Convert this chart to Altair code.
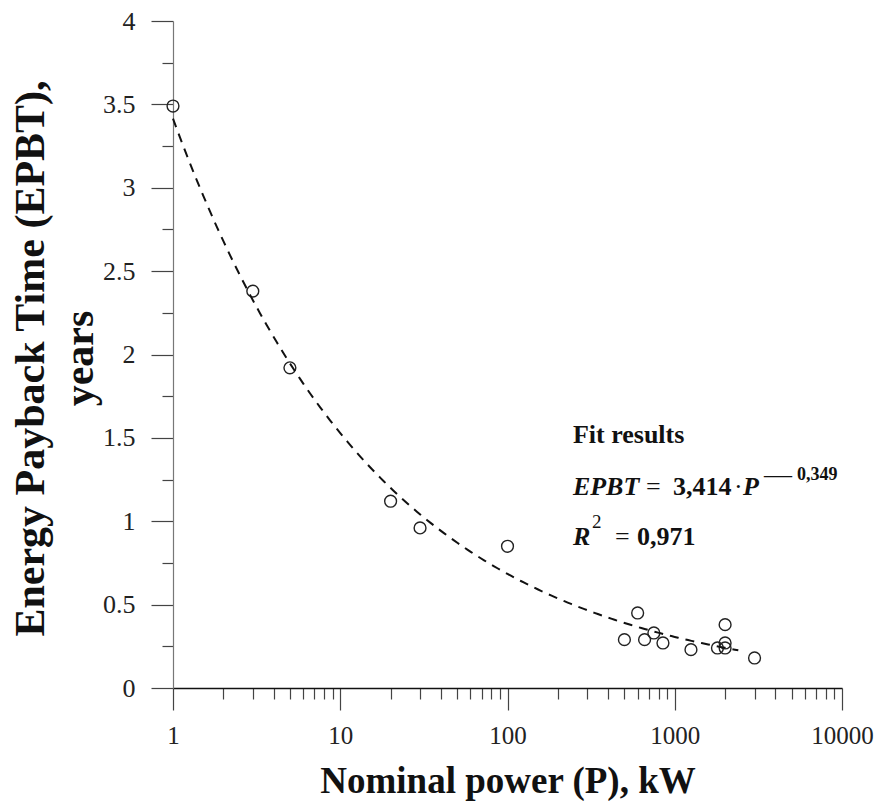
import altair as alt
import pandas as pd

# ---- data ----
power_kw = [1, 3, 5, 20, 30, 100, 500, 600, 660, 750, 850, 1250, 1800, 2000, 2000, 2000, 3000]
epbt_years = [3.49, 2.38, 1.92, 1.12, 0.96, 0.85, 0.29, 0.45, 0.29, 0.33, 0.27, 0.23, 0.24, 0.27, 0.24, 0.38, 0.18]

# fit parameters printed on the chart
fit_a = 3.414
fit_b = -0.349
fit_log_start = 0.0
fit_log_end = 3.39

x_major = [1, 10, 100, 1000, 10000]
x_ticks = [m * k for m in [1, 10, 100, 1000] for k in range(1, 10)] + [10000]
y_ticks = [i * 0.25 for i in range(17)]

ann_p = 246
ann_rows = {"fit": 1.47, "eq": 1.157, "r2": 0.857}

SERIF = "Liberation Serif"
W, H = 669, 667

pts = pd.DataFrame({"P": power_kw, "E": epbt_years})

x_major_str = "[" + ",".join(str(v) for v in x_major) + "]"
x_test = f"indexof({x_major_str}, datum.value) >= 0"
y_test = "abs(datum.value*2 - round(datum.value*2)) < 1e-6"

xscale = alt.Scale(type="log", domain=[1, 10000], nice=False)
yscale = alt.Scale(domain=[0, 4], nice=False)

x_axis = alt.Axis(
    values=x_ticks,
    tickSize={"condition": {"test": x_test, "value": 22}, "value": 11},
    labelExpr=f"{x_test} ? format(datum.value, 'd') : ''",
    labelFont=SERIF, labelFontSize=25, labelColor="#222", labelPadding=13,
    labelFlush=False, labelOverlap=False,
    tickColor="#444", tickWidth=1.2,
    domainColor="#111", domainWidth=1.6,
    grid=False,
    title="Nominal power (P), kW",
    titleFont=SERIF, titleFontSize=37, titleFontWeight="bold", titleColor="#111",
    titleX=W / 2, titleY=104, titleAlign="center", titleBaseline="alphabetic",
)
y_axis = alt.Axis(
    values=y_ticks,
    tickSize={"condition": {"test": y_test, "value": 22}, "value": 11},
    labelExpr=f"{y_test} ? toString(datum.value) : ''",
    labelFont=SERIF, labelFontSize=26, labelColor="#222", labelPadding=16,
    labelFlush=False, labelOverlap=False,
    tickColor="#444", tickWidth=1.2,
    domainColor="#777", domainWidth=1.2,
    grid=False,
    title=["Energy Payback Time (EPBT),", "years"],
    titleFont=SERIF, titleFontSize=42, titleFontWeight="bold", titleColor="#111",
    titleAngle=270, titleX=-130, titleY=337, titleAlign="center",
    titleBaseline="alphabetic", titleLineHeight=49,
)

points = alt.Chart(pts).mark_point(
    shape="circle", filled=False, size=140, strokeWidth=1.4, color="#222", opacity=1
).encode(
    x=alt.X("P:Q", scale=xscale, axis=x_axis),
    y=alt.Y("E:Q", scale=yscale, axis=y_axis),
)

fit = alt.Chart(alt.sequence(fit_log_start, fit_log_end + 0.001, 0.02, as_="lp")).transform_calculate(
    P="pow(10, datum.lp)",
    E=f"{fit_a} * pow(pow(10, datum.lp), {fit_b})",
).mark_line(strokeDash=[9, 7], strokeWidth=2, color="#111").encode(
    x=alt.X("P:Q", scale=xscale),
    y=alt.Y("E:Q", scale=yscale),
)


def txt(text, row, dx, size=26, weight="bold", style="normal", dy=0):
    df = pd.DataFrame({"P": [ann_p], "E": [ann_rows[row]], "t": [text]})
    return alt.Chart(df).mark_text(
        align="left", baseline="alphabetic", dx=dx, dy=dy, font=SERIF,
        fontSize=size, fontWeight=weight, fontStyle=style, color="#111",
    ).encode(x=alt.X("P:Q", scale=xscale), y=alt.Y("E:Q", scale=yscale), text="t:N")


texts = [
    txt("Fit results", "fit", 0),
    txt("EPBT", "eq", 0, style="italic"),
    txt("=", "eq", 73, weight="normal"),
    txt("3,414", "eq", 100),
    txt("·", "eq", 161, weight="normal"),
    txt("P", "eq", 170, style="italic"),
    txt("—", "eq", 191, size=28, weight="normal", dy=-12),
    txt("0,349", "eq", 224, size=18, dy=-15),
    txt("R", "r2", 0, style="italic"),
    txt("2", "r2", 19, size=19, weight="normal", dy=-17),
    txt("=", "r2", 42, weight="normal"),
    txt("0,971", "r2", 64),
]

chart = alt.layer(points, fit, *texts).properties(
    width=W, height=H,
    autosize=alt.AutoSizeParams(type="none"),
    padding={"left": 165, "top": 13, "right": 32, "bottom": 113},
    background="white",
).configure_view(stroke=None)

chart.save("out.html", embed_options={"renderer": "svg", "actions": False})
